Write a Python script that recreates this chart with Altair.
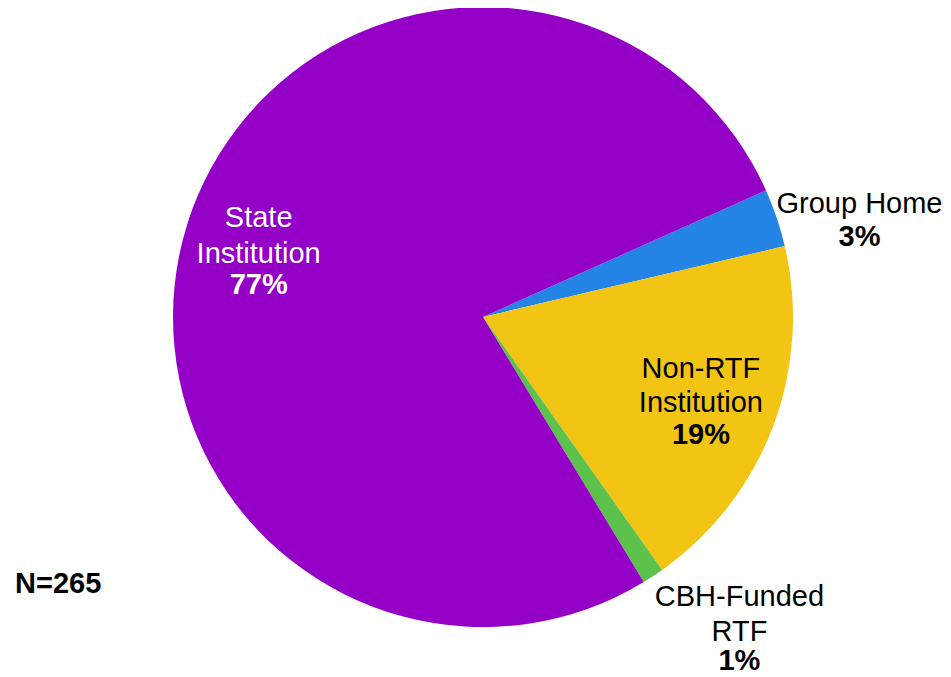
import math
import altair as alt
import pandas as pd

# ---- data ----
categories = ["Group Home", "Non-RTF Institution", "CBH-Funded RTF", "State Institution"]
counts = [8, 50, 3, 204]
pct_labels = ["3%", "19%", "1%", "77%"]
name_line1 = ["Group Home", "Non-RTF", "CBH-Funded", "State"]
name_line2 = ["", "Institution", "RTF", "Institution"]
colors = ["#2484E6", "#F2C414", "#5CC24C", "#9400C6"]
total_label = "N=265"

df = pd.DataFrame({
    "category": categories,
    "count": counts,
    "order": list(range(len(categories))),
    "pct": pct_labels,
    "line1": name_line1,
    "line2": name_line2,
})

FONT = "Liberation Sans"
FS = 29
start = math.radians(65.9)
theta_scale = alt.Scale(domain=[0, sum(counts)], range=[start, start + 2 * math.pi])

base = alt.Chart(df)

pie = base.mark_arc(outerRadius=310, innerRadius=0, stroke=None).encode(
    theta=alt.Theta("count:Q", stack=True, scale=theta_scale),
    color=alt.Color("category:N", scale=alt.Scale(domain=categories, range=colors), legend=None),
    order=alt.Order("order:Q"),
)

lab_base = base.transform_window(
    cum="sum(count)", sort=[alt.SortField("order")], frame=[None, 0]
).transform_calculate(mid="datum.cum - datum.count / 2")


def label_layers(cat, r, dx, dys, color):
    out = []
    fields = ["line1", "line2", "pct"]
    for field, dy in zip(fields, dys):
        if dy is None:
            continue
        out.append(
            lab_base.transform_filter(alt.datum.category == cat)
            .mark_text(
                radius=r, dx=dx, dy=dy, font=FONT, fontSize=FS,
                fontWeight="bold" if field == "pct" else "normal",
                color=color, align="center", baseline="alphabetic",
            )
            .encode(theta=alt.Theta("mid:Q", scale=theta_scale), text=alt.Text(f"{field}:N"))
        )
    return out


labels = []
labels += label_layers("State Institution", 235, 0, [-20, 16, 47], "white")
labels += label_layers("Non-RTF Institution", 233, 0, [-21, 13, 45], "black")
labels += label_layers("Group Home", 390, 7, [21, None, 54], "black")
labels += label_layers("CBH-Funded RTF", 400, 37, [-45, -10, 19], "black")

n_text = alt.Chart(pd.DataFrame({"t": [total_label]})).mark_text(
    font=FONT, fontSize=FS, fontWeight="bold", align="left", baseline="alphabetic", color="black"
).encode(x=alt.value(-8), y=alt.value(585), text="t:N")

chart = alt.layer(pie, *labels, n_text).properties(
    width=920,
    height=618,
    autosize=alt.AutoSizeParams(type="none"),
    padding={"left": 15, "top": 0, "right": 0, "bottom": 50},
).configure_view(stroke=None)

chart.save("out.html", embed_options={"renderer": "svg", "actions": False})
